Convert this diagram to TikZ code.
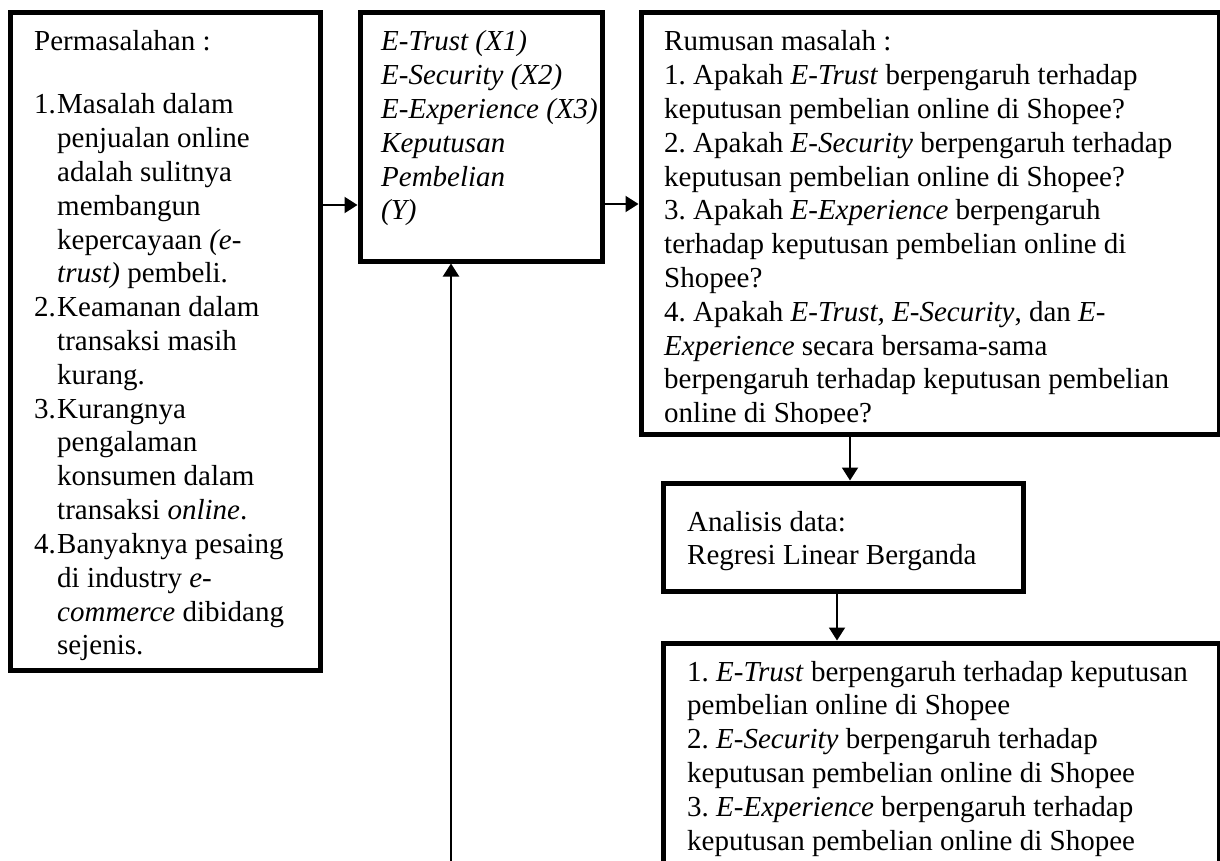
\documentclass[tikz,border=0pt]{standalone}
\usepackage{fontspec}
\setmainfont{Liberation Serif}
\usetikzlibrary{arrows.meta}
\frenchspacing
\newcommand\itemnum[1]{\makebox[23pt][l]{#1}}
\newcommand\itemind{\hspace*{23pt}}
\tikzset{
  boxstyle/.style={draw, line width=5pt, inner sep=0pt, rectangle},
  txt/.style={inner sep=0pt, anchor=base west, font=\fontsize{29}{33.8}\selectfont\frenchspacing},
  conn/.style={line width=2pt, -{Triangle[length=13pt,width=16pt]}},
}
\begin{document}
\begin{tikzpicture}[x=1pt,y=-1pt]
\useasboundingbox (0,0) rectangle (1220,861);
\clip (0,0) rectangle (1220,861);
\fill[white] (0,0) rectangle (1220,861);

% boxes
\node[boxstyle, minimum width=310pt, minimum height=657pt] (b1) at (165,341.5) {};
\node[boxstyle, minimum width=242pt, minimum height=248pt] (b2) at (481,137) {};
\node[boxstyle, minimum width=578pt, minimum height=421pt] (b3) at (930,223.5) {};
\node[boxstyle, minimum width=360pt, minimum height=108pt] (b4) at (843,537) {};
\node[boxstyle, minimum width=556pt, minimum height=357pt] (b5) at (941,821.5) {};

% box 1 text
\node[txt] (t1h) at (34,51) {Permasalahan :};
\begin{scope}
\clip (12,15) rectangle (318,663);
\node[txt] (t1) at (34,114) {\begin{tabular}[t]{@{}l@{}}
\itemnum{1.}Masalah dalam\\
\itemind penjualan online\\
\itemind adalah sulitnya\\
\itemind membangun\\
\itemind kepercayaan \textit{(e-}\\
\itemind\textit{trust)} pembeli.\\
\itemnum{2.}Keamanan dalam\\
\itemind transaksi masih\\
\itemind kurang.\\
\itemnum{3.}Kurangnya\\
\itemind pengalaman\\
\itemind konsumen dalam\\
\itemind transaksi \textit{online}.\\
\itemnum{4.}Banyaknya pesaing\\
\itemind di industry \textit{e-}\\
\itemind\textit{commerce} dibidang\\
\itemind sejenis.
\end{tabular}};
\end{scope}

% box 2 text
\node[txt] (t2) at (381,51) {\itshape\begin{tabular}[t]{@{}l@{}}
E-Trust (X1)\\
E-Security (X2)\\
E-Experience (X3)\\
Keputusan\\
Pembelian\\
(Y)
\end{tabular}};

% box 3 text
\begin{scope}
\clip (643,15) rectangle (1217,423.5);
\node[txt] (t3) at (664,51) {\begin{tabular}[t]{@{}l@{}}
Rumusan masalah :\\
1. Apakah \textit{E-Trust} berpengaruh terhadap\\
keputusan pembelian online di Shopee?\\
2. Apakah \textit{E-Security} berpengaruh terhadap\\
keputusan pembelian online di Shopee?\\
3. Apakah \textit{E-Experience} berpengaruh\\
terhadap keputusan pembelian online di\\
Shopee?\\
4. Apakah \textit{E-Trust, E-Security}, dan \textit{E-}\\
\textit{Experience} secara bersama-sama\\
berpengaruh terhadap keputusan pembelian\\
online di Shopee?
\end{tabular}};
\end{scope}

% box 4 text
\node[txt] (t4) at (687,531) {\begin{tabular}[t]{@{}l@{}}
Analisis data:\\
Regresi Linear Berganda
\end{tabular}};

% box 5 text
\node[txt] (t5) at (687,681) {\begin{tabular}[t]{@{}l@{}}
1. \textit{E-Trust} berpengaruh terhadap keputusan\\
pembelian online di Shopee\\
2. \textit{E-Security} berpengaruh terhadap\\
keputusan pembelian online di Shopee\\
3. \textit{E-Experience} berpengaruh terhadap\\
keputusan pembelian online di Shopee
\end{tabular}};

% connectors
\coordinate (ya) at (0,205);
\coordinate (yb) at (0,204);
\coordinate (xa) at (850,0);
\coordinate (xb) at (837,0);
\coordinate (bot) at (451,861);
\draw[conn] (b1.east |- ya) -- (b2.west |- ya);
\draw[conn] (b2.east |- yb) -- (b3.west |- yb);
\draw[conn] (b3.south -| xa) -- (b4.north -| xa);
\draw[conn] (b4.south -| xb) -- (b5.north -| xb);
\draw[conn] (bot) -- (b2.south -| bot);
\end{tikzpicture}
\end{document}
